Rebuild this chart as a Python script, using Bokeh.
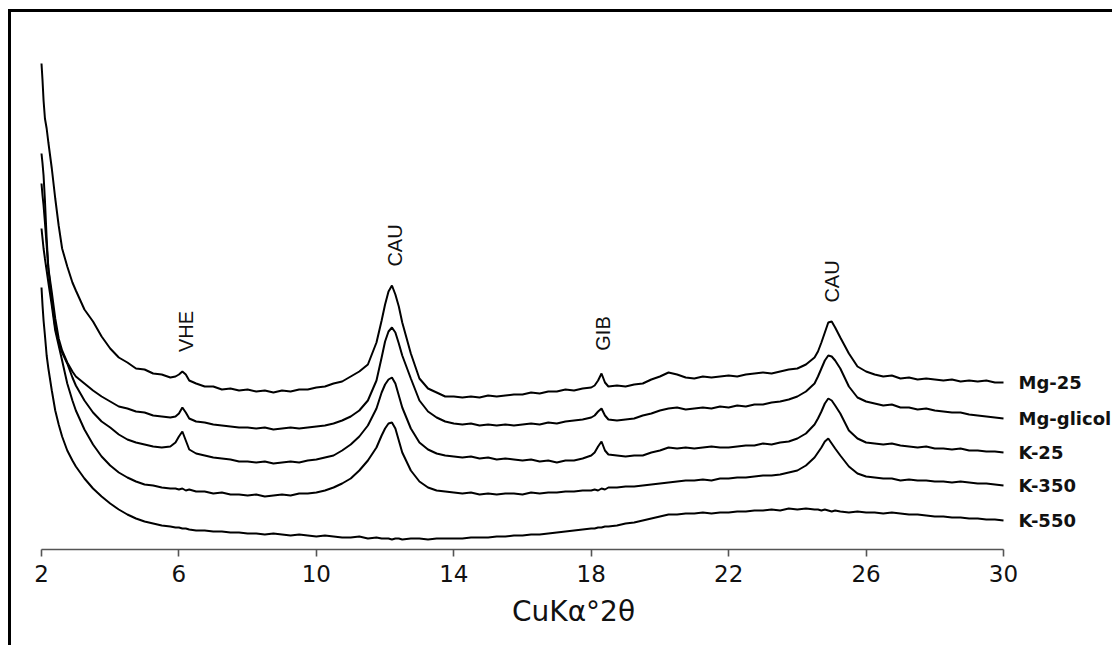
import numpy as np
from bokeh.plotting import figure
from bokeh.models import Range1d, FixedTicker
from bokeh.core.properties import value
from bokeh.embed import file_html
from bokeh.resources import INLINE

# ---------------- data (arbitrary intensity units) ----------------
two_theta = [2.0, 2.03, 2.06, 2.1, 2.15, 2.2, 2.3, 2.4, 2.5, 2.6, 2.75, 2.9,
             3.0, 3.25, 3.5, 3.75, 4.0, 4.25, 4.5, 4.75, 5.0, 5.25, 5.5, 5.75,
             5.9, 6.0, 6.1, 6.2, 6.3, 6.5, 6.75,
             7.0, 7.25, 7.5, 7.75, 8.0, 8.25, 8.5, 8.75, 9.0, 9.25, 9.5, 9.75,
             10.0, 10.25, 10.5, 10.75, 11.0, 11.25, 11.5, 11.75, 11.9,
             12.0, 12.1, 12.2, 12.3, 12.4, 12.5, 12.75, 13.0, 13.25, 13.5, 13.75,
             14.0, 14.25, 14.5, 14.75, 15.0, 15.25, 15.5, 15.75, 16.0, 16.25, 16.5, 16.75,
             17.0, 17.25, 17.5, 17.75,
             18.0, 18.1, 18.2, 18.3, 18.4, 18.5, 18.75,
             19.0, 19.25, 19.5, 19.75, 20.0, 20.25, 20.5, 20.75, 21.0, 21.25, 21.5, 21.75,
             22.0, 22.25, 22.5, 22.75, 23.0, 23.25, 23.5, 23.75, 24.0, 24.25, 24.5,
             24.6, 24.7, 24.8, 24.9,
             25.0, 25.1, 25.25, 25.5, 25.75, 26.0, 26.25, 26.5, 26.75, 27.0, 27.25, 27.5,
             27.75, 28.0, 28.25, 28.5, 28.75, 29.0, 29.25, 29.5, 29.75, 30.0]

mg_25 = [486, 469, 449, 431, 421, 407, 381, 351, 324, 301, 283, 267,
         259, 240, 228, 213, 201, 192, 187, 181, 180, 176, 175, 172,
         173, 175, 178, 175, 169, 166, 163,
         163, 160, 161, 159, 160, 158, 159, 157, 159, 158, 160, 160,
         162, 163, 166, 168, 173, 178, 185, 207, 229,
         245, 258, 264, 255, 243, 227, 196, 171, 161, 157, 153,
         153, 152, 153, 152, 154, 153, 154, 155, 155, 157, 156, 158, 158, 160, 159, 161,
         162, 164, 169, 176, 167, 163, 164,
         163, 165, 166, 170, 173, 177, 175, 172, 171, 173, 172, 173, 174, 173, 175, 176,
         177, 176, 178, 180, 181, 185, 192, 198, 207, 217, 227,
         228, 222, 212, 196, 183, 178, 175, 173, 174, 171, 172, 170, 171, 170, 169, 170,
         168, 169, 168, 169, 167, 167]

mg_glicol = [396, 386, 374, 349, 311, 281, 257, 231, 211, 199, 187, 178,
             173, 166, 159, 153, 148, 143, 141, 138, 137, 134, 133, 132,
             133, 136, 142, 137, 131, 128, 127,
             125, 124, 123, 122, 122, 121, 122, 120, 121, 122, 121, 122,
             123, 124, 126, 129, 133, 139, 149, 169, 192,
             208, 218, 222, 217, 206, 194, 171, 149, 138, 132, 128,
             126, 125, 126, 124, 125, 124, 125, 124, 125, 126, 125, 127, 126, 128, 129, 130,
             132, 134, 138, 141, 134, 130, 129,
             130, 131, 134, 136, 139, 141, 142, 140, 141, 142, 141, 143, 142, 144, 143, 145,
             145, 147, 148, 150, 153, 158, 166, 173, 181, 189, 194,
             193, 189, 181, 163, 152, 148, 146, 144, 145, 142, 142, 140, 141, 139, 138, 137,
             137, 135, 134, 133, 132, 131]

k_25 = [366, 354, 344, 327, 304, 281, 249, 222, 207, 197, 186, 172,
        164, 149, 137, 128, 122, 115, 110, 107, 105, 103, 102, 103,
        107, 113, 118, 109, 100, 96, 94,
        92, 91, 90, 88, 88, 87, 88, 86, 87, 88, 87, 89,
        90, 92, 94, 99, 105, 113, 124, 141, 157,
        165, 170, 172, 166, 154, 142, 121, 107, 100, 96, 94,
        93, 92, 93, 91, 92, 90, 91, 90, 89, 90, 88, 89, 87, 89, 89, 91,
        94, 97, 103, 108, 99, 95, 94,
        93, 94, 94, 97, 99, 102, 101, 102, 101, 102, 103, 102, 102, 103, 104, 104,
        106, 105, 107, 108, 111, 116, 125, 131, 138, 146, 151,
        149, 144, 136, 119, 111, 107, 106, 105, 106, 104, 103, 102, 103, 101, 101, 100,
        101, 99, 99, 98, 98, 97]

k_350 = [321, 311, 301, 291, 279, 267, 244, 219, 204, 189, 166, 149,
         139, 120, 105, 93, 84, 77, 72, 68, 65, 64, 62, 61,
         61, 60, 61, 59, 60, 58, 58,
         56, 57, 55, 55, 54, 55, 53, 54, 55, 54, 56, 56,
         57, 59, 62, 66, 71, 79, 89, 102, 114,
         121, 126, 127, 121, 109, 97, 79, 68, 62, 59, 58,
         57, 56, 57, 55, 56, 55, 56, 56, 55, 57, 56, 57, 57, 58, 58, 59,
         59, 60, 59, 61, 60, 62, 62,
         63, 63, 64, 65, 66, 67, 68, 69, 69, 70, 69, 71, 71, 72, 72, 73,
         74, 74, 75, 77, 79, 84, 92, 97, 102, 108, 111,
         106, 101, 94, 83, 76, 73, 72, 71, 71, 69, 70, 69, 69, 68, 68, 67,
         68, 67, 66, 66, 65, 64]

k_550 = [262, 244, 229, 214, 194, 181, 159, 139, 125, 113, 99, 89,
         83, 71, 61, 53, 46, 40, 35, 31, 28, 26, 24, 23,
         22, 22, 21, 21, 20, 19, 19,
         18, 18, 17, 17, 16, 16, 15, 16, 15, 14, 15, 14,
         13, 14, 13, 12, 12, 13, 11, 12, 11,
         11, 11, 10, 11, 11, 10, 11, 11, 10, 11, 11,
         11, 11, 12, 12, 12, 13, 13, 14, 14, 15, 15, 16, 17, 18, 19, 20,
         21, 21, 22, 22, 23, 23, 24,
         26, 27, 29, 31, 33, 35, 35, 36, 36, 37, 36, 37, 37, 38, 38, 39,
         39, 40, 39, 41, 40, 41, 40, 40, 39, 40, 39,
         38, 39, 38, 37, 38, 37, 37, 36, 37, 36, 35, 35, 34, 33, 33, 32,
         32, 31, 31, 30, 30, 29]

series_names = ["Mg-25", "Mg-glicol", "K-25", "K-350", "K-550"]
series_values = [mg_25, mg_glicol, k_25, k_350, k_550]

peak_names = ["VHE", "CAU", "GIB", "CAU"]
peak_positions = [6.2, 12.3, 18.35, 25.0]

tick_values = [2, 6, 10, 14, 18, 22, 26, 30]
x_label = "CuKα°2θ"

# ---------------- figure ----------------
PX = 962.0 / 28.0          # screen pixels per degree
W, H = 1104, 636
LEFT = 20
AXIS_Y = 537               # frame height in pixels
BOTTOM = H - AXIS_Y
x0 = 2 - 10 / PX
x1 = x0 + (W - LEFT) / PX

p = figure(width=W, height=H, output_backend="svg", toolbar_location=None,
           x_range=Range1d(x0, x1), y_range=Range1d(0, AXIS_Y),
           y_axis_location=None,
           min_border_left=LEFT, min_border_right=0, min_border_top=0,
           min_border_bottom=BOTTOM)
p.styles = {"border-left": "3px solid black", "border-top": "3px solid black",
            "margin-left": "8px", "margin-top": "9px"}
p.outline_line_color = None
p.grid.grid_line_color = None
p.background_fill_color = "white"
p.border_fill_color = "white"

ax = p.xaxis[0]
ax.bounds = (2, 30)
ax.ticker = FixedTicker(ticks=tick_values)
ax.minor_tick_line_color = None
ax.axis_line_color = "#555555"
ax.axis_line_width = 1.6
ax.major_tick_line_color = "#555555"
ax.major_tick_line_width = 1.6
ax.major_tick_out = 7
ax.major_tick_in = 0
ax.major_label_standoff = 8
ax.major_label_text_font = "DejaVu Sans"
ax.major_label_text_font_size = "23px"
ax.major_label_text_color = "#111111"
ax.axis_label = x_label
ax.axis_label_text_font = "DejaVu Sans"
ax.axis_label_text_font_size = "28px"
ax.axis_label_text_font_style = "normal"
ax.axis_label_text_color = "#111111"
ax.axis_label_standoff = 10

xs = np.array(two_theta)
for vals in series_values:
    p.line(two_theta, vals, line_color="black", line_width=2.0)

# sample names at the right end of each pattern
p.text(x=[30 + 15 / PX] * len(series_names),
       y=[v[-1] for v in series_values],
       text=series_names, text_align="left", text_baseline="middle",
       text_font=value("DejaVu Sans"), text_font_style="bold",
       text_font_size="18px", text_color="#111111")

# mineral labels above the top pattern
top = np.array(mg_25)
ly = [float(top[(xs >= px - 0.3) & (xs <= px + 0.3)].max()) + 40 for px in peak_positions]
p.text(x=peak_positions, y=ly, text=peak_names, angle=np.pi / 2,
       text_align="center", text_baseline="middle",
       text_font=value("Liberation Sans"), text_font_size="20px",
       text_color="#111111")

open("out.html", "w").write(file_html(p, INLINE))
